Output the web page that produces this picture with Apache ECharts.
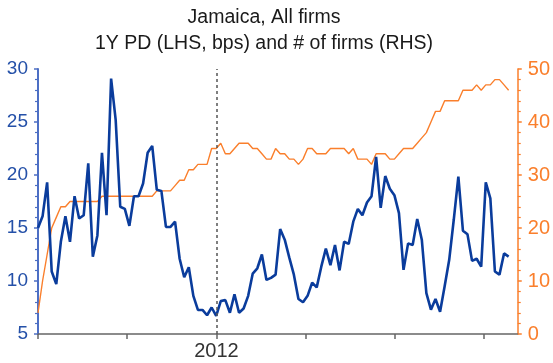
<!DOCTYPE html>
<html>
<head>
<meta charset="utf-8">
<script src="https://cdn.jsdelivr.net/npm/echarts@6/dist/echarts.min.js"></script>
<style>
  html, body { margin: 0; padding: 0; background: #fff; }
  #chart { width: 553px; height: 363px; }
</style>
</head>
<body>
<div id="chart"></div>
<script>
// 1Y probability of default (bps), one value per observation step
const pdBps = [
  15.0, 16.1, 19.3, 10.9, 9.7, 13.7, 16.1, 13.7, 18.0, 15.9,
  16.2, 21.1, 12.3, 14.3, 22.1, 16.2, 29.1, 25.2, 17.0, 16.8,
  15.2, 18.0, 18.0, 19.2, 22.1, 22.75, 18.6, 18.5, 15.1, 15.1,
  15.6, 12.1, 10.35, 11.3, 8.6, 7.27, 7.27, 6.77, 7.5, 6.7,
  8.1, 8.2, 7.0, 8.75, 7.0, 7.4, 8.6, 10.7, 11.2, 12.5,
  10.1, 10.3, 10.6, 14.9, 13.9, 12.2, 10.6, 8.3, 8.0, 8.6,
  9.85, 9.4, 11.35, 13.05, 11.5, 13.4, 11.0, 13.7, 13.5, 15.6,
  16.8, 16.2, 17.4, 18.0, 21.7, 16.9, 19.9, 18.7, 18.1, 16.4,
  11.05, 13.55, 13.4, 15.85, 13.9, 8.85, 7.3, 8.3, 7.1, 9.5,
  12.0, 15.8, 19.85, 14.75, 14.4, 11.9, 12.1, 11.35, 19.3, 17.8,
  10.9, 10.6, 12.6, 12.3
];

// Number of firms in the sample at each observation step
const firmCount = [
  4, 10, 15, 20, 22, 24, 24, 25, 25, 25,
  25, 25, 25, 25, 26, 26, 26, 26, 26, 26,
  26, 26, 26, 26, 26, 26, 27, 27, 27, 27,
  28, 29, 29, 31, 31, 32, 32, 32, 35, 35,
  36, 34, 34, 35, 36, 36, 36, 35, 35, 34,
  33, 33, 35, 34, 34, 33, 33, 32, 33, 35,
  35, 34, 34, 34, 35, 35, 35, 35, 34, 35,
  33, 33, 33, 32, 34, 34, 34, 33, 33, 34,
  35, 35, 35, 36, 37, 38, 40, 42, 42, 44,
  44, 44, 44, 46, 46, 46, 47, 46, 47, 47,
  48, 48, 47, 46
];

// Time axis in observation steps: tick marks and the labelled year
const xTickSteps = [0, 19.53, 39.06, 58.59, 78.12, 97.65];
const xLabelSteps = [39.06];
const xLabelText = ['2012'];
const xMaxStep = 105;
const yearMarkStep = 39.06;

const titleLines = ['Jamaica, All firms', '1Y PD (LHS, bps) and # of firms (RHS)'];

const BLUE = '#0a3c9c';
const BLUE_AXIS = '#4d6fc4';
const BLUE_TEXT = '#2450a8';
const ORANGE = '#fa7f2c';
const FONT = '"Liberation Sans", Arial, Helvetica, sans-serif';

const chart = echarts.init(document.getElementById('chart'), null, { renderer: 'canvas' });

chart.setOption({
  animation: false,
  backgroundColor: '#ffffff',
  title: {
    text: titleLines.join('\n'),
    left: 264,
    top: 4,
    padding: 0,
    textAlign: 'center',
    textStyle: {
      fontFamily: FONT,
      fontSize: 19.5,
      fontWeight: 'normal',
      color: '#1a1a1a',
      lineHeight: 26.5
    }
  },
  grid: { left: 38, right: 33, top: 69, bottom: 29, containLabel: false },
  xAxis: {
    type: 'value',
    min: 0,
    max: xMaxStep,
    splitLine: { show: false },
    axisLine: { show: true, lineStyle: { color: '#666666', width: 1.5 } },
    axisTick: {
      show: true,
      inside: false,
      length: 5,
      customValues: xTickSteps,
      lineStyle: { color: '#666666', width: 1.5 }
    },
    axisLabel: {
      show: true,
      customValues: xLabelSteps,
      margin: 7,
      fontFamily: FONT,
      fontSize: 20,
      color: '#333333',
      formatter: function (v) {
        const k = xLabelSteps.findIndex(s => Math.abs(s - v) < 1e-6);
        return k >= 0 ? xLabelText[k] : '';
      }
    }
  },
  yAxis: [
    {
      type: 'value',
      position: 'left',
      min: 5,
      max: 30,
      interval: 5,
      splitLine: { show: false },
      axisLine: { show: true, lineStyle: { color: BLUE_AXIS, width: 2 } },
      axisTick: { show: true, length: 4, lineStyle: { color: BLUE_AXIS, width: 1.5 } },
      minorTick: { show: true, splitNumber: 5, length: 3, lineStyle: { color: BLUE_AXIS, width: 1.2 } },
      axisLabel: { margin: 10, fontFamily: FONT, fontSize: 19, color: BLUE_TEXT }
    },
    {
      type: 'value',
      position: 'right',
      min: 0,
      max: 50,
      interval: 10,
      splitLine: { show: false },
      axisLine: { show: true, lineStyle: { color: ORANGE, width: 1.5 } },
      axisTick: { show: true, length: 4, lineStyle: { color: ORANGE, width: 1.5 } },
      minorTick: { show: true, splitNumber: 5, length: 3, lineStyle: { color: ORANGE, width: 1.2 } },
      axisLabel: { margin: 10, fontFamily: FONT, fontSize: 20, color: ORANGE }
    }
  ],
  series: [
    {
      name: '# of firms',
      type: 'line',
      yAxisIndex: 1,
      data: firmCount.map((v, i) => [i, v]),
      showSymbol: false,
      symbol: 'none',
      lineStyle: { color: ORANGE, width: 1.4 },
      z: 2
    },
    {
      name: '1Y PD',
      type: 'line',
      yAxisIndex: 0,
      data: pdBps.map((v, i) => [i, v]),
      showSymbol: false,
      symbol: 'none',
      lineStyle: { color: BLUE, width: 2.6 },
      z: 3,
      markLine: {
        silent: true,
        symbol: 'none',
        label: { show: false },
        lineStyle: { color: '#555555', type: [3, 3], width: 1.5 },
        data: [{ xAxis: yearMarkStep }]
      }
    }
  ]
});
</script>
</body>
</html>
